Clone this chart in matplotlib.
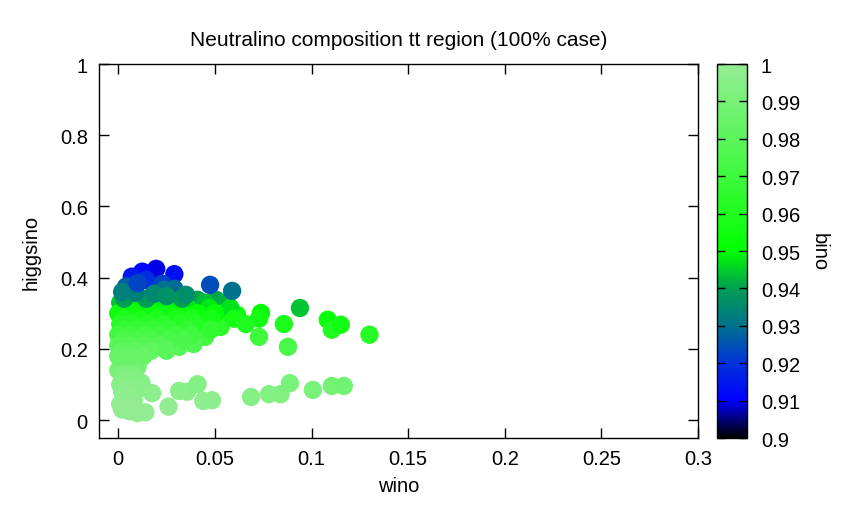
import numpy as np
import matplotlib
matplotlib.use('Agg')
import matplotlib.pyplot as plt
from matplotlib.colors import LinearSegmentedColormap
from matplotlib.ticker import FuncFormatter, MultipleLocator

plt.rcParams['font.family'] = ['Liberation Sans', 'DejaVu Sans']
FS = 14.5

# ---- data ----
# blue / teal points at the top of the cloud
wino_top = [0.0196, 0.029, 0.0124, 0.007, 0.0145, 0.004, 0.0227, 0.029, 0.0237, 0.0475,
            0.0589, 0.003, 0.0145, 0.033, 0.009, 0.0185, 0.002, 0.010, 0.035, 0.025]
higgs_top = [0.425, 0.410, 0.417, 0.403, 0.394, 0.375, 0.383, 0.369, 0.366, 0.380,
             0.363, 0.341, 0.341, 0.341, 0.358, 0.355, 0.360, 0.385, 0.352, 0.348]
bino_top = [0.909, 0.913, 0.911, 0.915, 0.919, 0.927, 0.923, 0.929, 0.930, 0.924,
            0.930, 0.940, 0.940, 0.940, 0.933, 0.935, 0.933, 0.923, 0.936, 0.937]

# green band, incl. the outliers to the right
wino_mid = [0.041, 0.0506, 0.056, 0.0614, 0.0738, 0.0728, 0.0537, 0.053, 0.045, 0.0728,
            0.039, 0.043, 0.0857, 0.094, 0.1084, 0.1105, 0.1151, 0.130, 0.0878, 0.0315,
            0.001, 0.008, 0.016, 0.024, 0.031, 0.045,
            0.004, 0.012, 0.020, 0.028, 0.036, 0.047, 0.058,
            0.000, 0.008, 0.017, 0.025, 0.033, 0.041, 0.050,
            0.003, 0.011, 0.020, 0.030, 0.038, 0.048, 0.060,
            0.001, 0.007, 0.015, 0.023, 0.032, 0.040, 0.066,
            0.003, 0.010, 0.018, 0.026, 0.036, 0.048,
            0.000, 0.006, 0.014, 0.022, 0.030, 0.038,
            0.002, 0.009, 0.017, 0.026, 0.034,
            0.000, 0.006, 0.013, 0.021, 0.016,
            0.002, 0.009, 0.017, 0.025,
            0.000, 0.006, 0.013]
higgs_mid = [0.338, 0.338, 0.332, 0.296, 0.301, 0.285, 0.299, 0.262, 0.234, 0.234,
             0.214, 0.282, 0.270, 0.315, 0.282, 0.254, 0.268, 0.240, 0.206, 0.206,
             0.330, 0.330, 0.330, 0.330, 0.330, 0.330,
             0.315, 0.315, 0.315, 0.315, 0.315, 0.315, 0.315,
             0.300, 0.300, 0.300, 0.300, 0.300, 0.300, 0.300,
             0.285, 0.285, 0.285, 0.285, 0.285, 0.285, 0.285,
             0.270, 0.270, 0.270, 0.270, 0.270, 0.270, 0.270,
             0.255, 0.255, 0.255, 0.255, 0.255, 0.255,
             0.240, 0.240, 0.240, 0.240, 0.240, 0.240,
             0.225, 0.225, 0.225, 0.225, 0.225,
             0.210, 0.210, 0.210, 0.210, 0.206,
             0.195, 0.195, 0.195, 0.195,
             0.180, 0.180, 0.180]
bino_mid = [0.941, 0.941, 0.942, 0.954, 0.950, 0.957, 0.952, 0.964, 0.971, 0.970,
            0.976, 0.958, 0.959, 0.944, 0.953, 0.961, 0.956, 0.962, 0.974, 0.978,
            0.944, 0.944, 0.944, 0.944, 0.943, 0.943,
            0.949, 0.949, 0.949, 0.949, 0.948, 0.948, 0.947,
            0.954, 0.954, 0.954, 0.954, 0.953, 0.953, 0.952,
            0.959, 0.958, 0.958, 0.958, 0.958, 0.957, 0.957,
            0.963, 0.963, 0.963, 0.963, 0.962, 0.962, 0.960,
            0.967, 0.967, 0.967, 0.967, 0.966, 0.966,
            0.971, 0.971, 0.971, 0.970, 0.970, 0.970,
            0.974, 0.974, 0.974, 0.974, 0.974,
            0.978, 0.978, 0.978, 0.978, 0.978,
            0.981, 0.981, 0.981, 0.980,
            0.984, 0.984, 0.984]

# light green column near wino = 0 and the low-higgsino row
wino_low = [0.001, 0.007, 0.003, 0.010, 0.000, 0.006, 0.002, 0.009, 0.004, 0.007,
            0.012, 0.001, 0.005, 0.010, 0.002, 0.006, 0.003, 0.008, 0.001, 0.005,
            0.002, 0.006, 0.010, 0.014, 0.026, 0.0175, 0.0315, 0.0356, 0.041, 0.044,
            0.0485, 0.0687, 0.078, 0.084, 0.0888, 0.1007, 0.1105, 0.1167]
higgs_low = [0.170, 0.165, 0.155, 0.150, 0.140, 0.135, 0.125, 0.120, 0.110, 0.113,
             0.105, 0.100, 0.090, 0.085, 0.080, 0.070, 0.060, 0.055, 0.045, 0.040,
             0.030, 0.025, 0.020, 0.022, 0.038, 0.076, 0.082, 0.080, 0.101, 0.054,
             0.056, 0.065, 0.073, 0.073, 0.104, 0.085, 0.096, 0.096]
bino_low = [0.985, 0.986, 0.988, 0.989, 0.990, 0.991, 0.992, 0.993, 0.994, 0.994,
            0.994, 0.995, 0.996, 0.996, 0.997, 0.998, 0.998, 0.998, 0.999, 0.999,
            0.999, 0.999, 0.999, 0.999, 0.999, 0.997, 0.996, 0.996, 0.994, 0.998,
            0.997, 0.995, 0.994, 0.993, 0.991, 0.991, 0.989, 0.988]

wino = wino_low + wino_mid + wino_top
higgsino = higgs_low + higgs_mid + higgs_top
bino = bino_low + bino_mid + bino_top

# palette like the gnuplot one (black -> blue -> teal -> green -> light green)
cmap = LinearSegmentedColormap.from_list('bino', [
    (0.00, (0.0, 0.0, 0.0)),
    (0.10, (0.0, 0.0, 1.0)),
    (0.20, (0.0, 0.20, 0.85)),
    (0.30, (0.0, 0.45, 0.55)),
    (0.40, (0.0, 0.62, 0.32)),
    (0.50, (0.0, 1.0, 0.0)),
    (0.75, (0.30, 0.97, 0.30)),
    (1.00, (0.58, 0.93, 0.58)),
])

fig = plt.figure(figsize=(8.43, 5.06), dpi=100)
ax = fig.add_axes([0.1174, 0.1324, 0.7106, 0.7391])
cax = fig.add_axes([0.8505, 0.1324, 0.0356, 0.7391])

sc = ax.scatter(wino, higgsino, c=bino, cmap=cmap, vmin=0.9, vmax=1.0,
                s=175, linewidths=0, zorder=3)

ax.set_xlim(-0.01, 0.3)
ax.set_ylim(-0.05, 1.0)
ax.xaxis.set_major_locator(MultipleLocator(0.05))
ax.yaxis.set_major_locator(MultipleLocator(0.2))
fmt = FuncFormatter(lambda v, p: '%g' % round(v, 3))
ax.xaxis.set_major_formatter(fmt)
ax.yaxis.set_major_formatter(fmt)
ax.tick_params(direction='in', top=True, right=True, length=7, width=1,
               labelsize=FS, pad=8)
for sp in ax.spines.values():
    sp.set_linewidth(1.0)

ax.set_xlabel('wino', fontsize=FS, labelpad=6)
ax.set_ylabel('higgsino', fontsize=FS, labelpad=14)
ax.set_title('Neutralino composition tt region (100% case)', fontsize=15, pad=14)

cb = fig.colorbar(sc, cax=cax)
cb.set_ticks(np.round(np.arange(0.9, 1.0001, 0.01), 2))
cb.ax.yaxis.set_major_formatter(fmt)
cb.ax.tick_params(direction='in', left=True, right=True, length=6, width=1,
                  labelsize=FS, pad=10)
cb.outline.set_linewidth(1.0)
fig.text(0.972, 0.502, 'bino', fontsize=FS, rotation=-90, ha='center', va='center')

fig.savefig('out.png', dpi=100, facecolor='white')
